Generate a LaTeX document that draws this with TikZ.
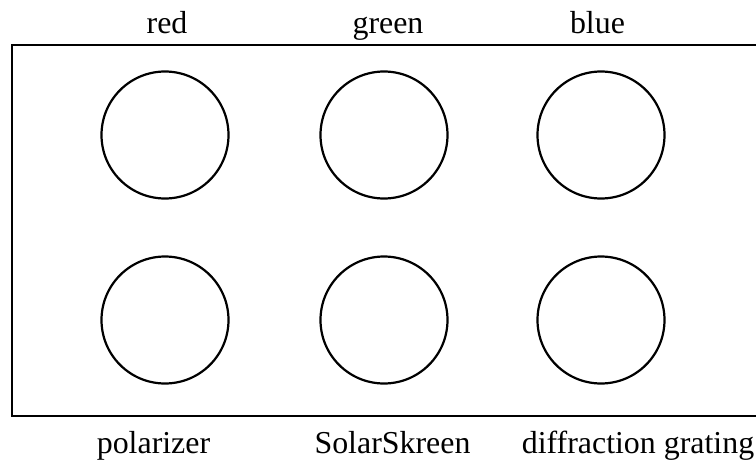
\documentclass[tikz,border=0pt]{standalone}
\usepackage{fontspec}
\setmainfont{Liberation Serif}
\usepackage{tikz}

\tikzset{
  filter/.style={circle,draw=black,line width=2.2pt,minimum size=127pt,inner sep=0pt},
  lbl/.style={anchor=base,inner sep=0pt,font=\fontsize{31.9}{36}\selectfont}
}

\begin{document}
\begin{tikzpicture}[x=1pt,y=-1pt]
\useasboundingbox (0,0) rectangle (756,461);

\draw[line width=2.6pt] (780,45) -- (12,45) -- (12,416) -- (780,416);

% filters, top row
\node[filter] (red) at (165,135) {};
\node[filter] (green) at (384,135) {};
\node[filter] (blue) at (601,135) {};

% filters, bottom row
\node[filter] (pol) at (165,320) {};
\node[filter] (solar) at (384,320) {};
\node[filter] (grating) at (601,320) {};

\node[lbl] (tred) at (167,33) {red};
\node[lbl] (tgreen) at (388,33) {green};
\node[lbl] (tblue) at (597.5,33) {blue};

\node[lbl] (tpol) at (153.5,453) {polarizer};
\node[lbl] (tsolar) at (392.5,453) {SolarSkreen};
\node[lbl] (tgrating) at (638,453) {diffraction grating};

\end{tikzpicture}
\end{document}
